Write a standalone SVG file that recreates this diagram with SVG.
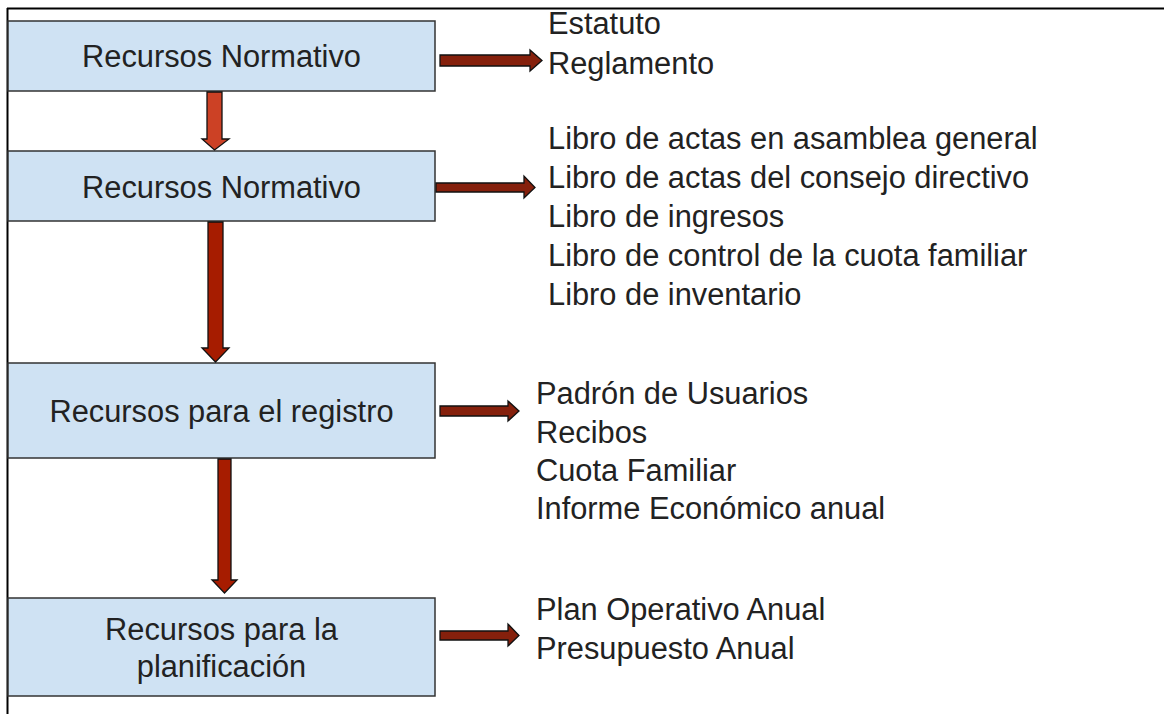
<svg xmlns="http://www.w3.org/2000/svg" width="1164" height="714" viewBox="0 0 1164 714">
<style>
.frame{stroke:#000;stroke-width:2;fill:none}
.box{fill:#cfe2f3;stroke:#333;stroke-width:1.5}
.t{font-family:"Liberation Sans",Arial,sans-serif;font-size:30.8px;fill:#222}
.c{text-anchor:middle}
.a1{fill:#cc4125;stroke:#111;stroke-width:1.3}
.a2{fill:#a61c00;stroke:#111;stroke-width:1.3}
.ah{fill:#85200c;stroke:#111;stroke-width:1.3}
</style>
<rect width="1164" height="714" fill="#fff"/>
<path class="frame" d="M7 8.5H1164M7.5 8V714"/>
<g id="node1"><rect class="box" x="8" y="21" width="427" height="70"/><text class="t c" x="221.5" y="67">Recursos Normativo</text></g>
<g id="list1"><text class="t" x="548" y="34">Estatuto</text><text class="t" x="548" y="74">Reglamento</text></g>
<g id="node2"><rect class="box" x="8" y="151" width="427" height="70"/><text class="t c" x="221.5" y="198">Recursos Normativo</text></g>
<g id="list2">
<text class="t" x="548" y="149">Libro de actas en asamblea general</text>
<text class="t" x="548" y="188">Libro de actas del consejo directivo</text>
<text class="t" x="548" y="227">Libro de ingresos</text>
<text class="t" x="548" y="266">Libro de control de la cuota familiar</text>
<text class="t" x="548" y="305">Libro de inventario</text>
</g>
<g id="node3"><rect class="box" x="8" y="363" width="427" height="95"/><text class="t c" x="221.5" y="422">Recursos para el registro</text></g>
<g id="list3">
<text class="t" x="536" y="404">Padrón de Usuarios</text>
<text class="t" x="536" y="443">Recibos</text>
<text class="t" x="536" y="481">Cuota Familiar</text>
<text class="t" x="536" y="519">Informe Económico anual</text>
</g>
<g id="node4"><rect class="box" x="8" y="598" width="427" height="98"/><text class="t c" x="221.5" y="640">Recursos para la</text><text class="t c" x="221.5" y="677">planificación</text></g>
<g id="list4">
<text class="t" x="536" y="620">Plan Operativo Anual</text>
<text class="t" x="536" y="659">Presupuesto Anual</text>
</g>
<g id="connectors">
<polygon class="a1" points="207,92 222,92 222,139 229,139 214.5,150 202,139 207,139"/>
<polygon class="a2" points="208,222 223,222 223,348 229,348 215.5,362 202,348 208,348"/>
<polygon class="a2" points="218,459 231,459 231,580 237,580 224.5,593 212,580 218,580"/>
<polygon class="ah" points="440,55 530,55 530,50 542,60.5 530,71 530,66 440,66"/>
<polygon class="ah" points="436,183 524,183 524,176 535,187.5 524,198 524,192 436,192"/>
<polygon class="ah" points="440,406 508,406 508,401 519,411 508,421 508,416 440,416"/>
<polygon class="ah" points="440,631 508,631 508,624 519,635.5 508,646 508,640 440,640"/>
</g>
</svg>
